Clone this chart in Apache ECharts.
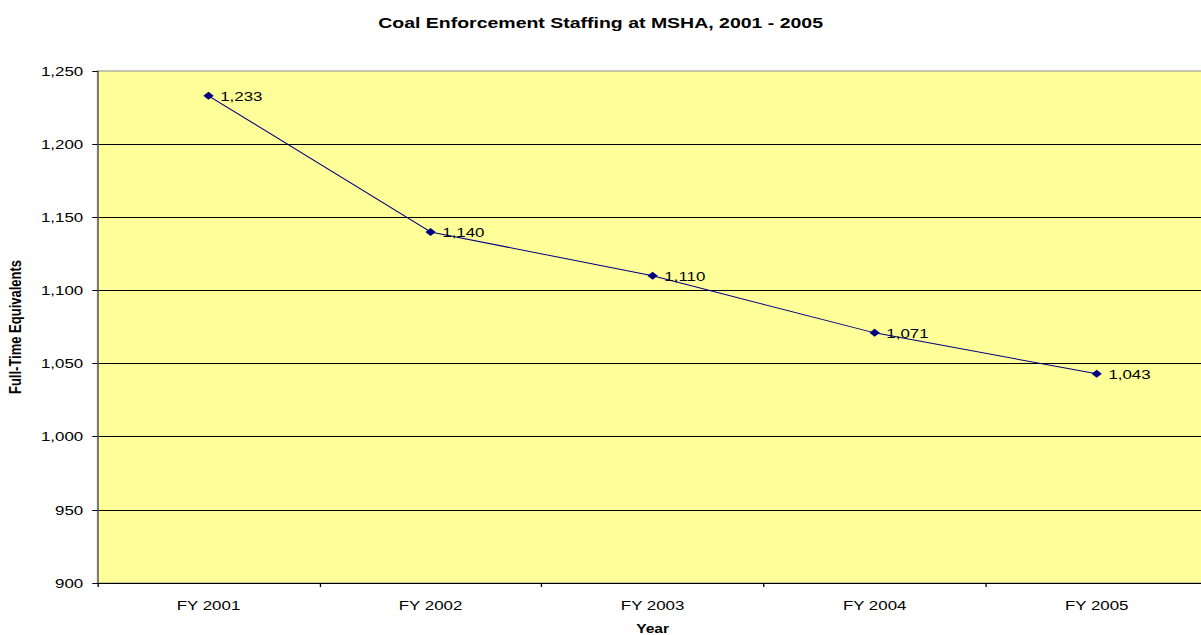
<!DOCTYPE html>
<html>
<head>
<meta charset="utf-8">
<script src="https://cdn.jsdelivr.net/npm/echarts@6/dist/echarts.min.js"></script>
<style>
  html, body { margin: 0; padding: 0; background: #fff; overflow: hidden; }
  /* the original picture is a horizontally stretched spreadsheet chart,
     so draw it narrower and stretch it back out */
  #chart { width: 924px; height: 635px; transform: scaleX(1.3); transform-origin: 0 0; }
</style>
</head>
<body>
<div id="chart"></div>
<script>
var years = ['FY 2001', 'FY 2002', 'FY 2003', 'FY 2004', 'FY 2005'];
var fte = [1233, 1140, 1110, 1071, 1043];

function fmt(v) {
    return String(v).replace(/\B(?=(\d{3})+(?!\d))/g, ',');
}

var myChart = echarts.init(document.getElementById('chart'), null, { renderer: 'svg' });
var option = {
    backgroundColor: '#ffffff',
    textStyle: { fontFamily: 'Liberation Sans, Arial, sans-serif' },
    title: {
        text: 'Coal Enforcement Staffing at MSHA, 2001 - 2005',
        left: 'center',
        top: 10,
        textStyle: { fontSize: 15, fontWeight: 'bold', color: '#000' }
    },
    grid: {
        // plot runs a little past the right edge of the picture
        left: 75, right: -5, top: 71, bottom: 52,
        outerBoundsMode: 'none',
        containLabel: false,
        show: true,
        backgroundColor: '#FFFF99',
        borderWidth: 1,
        borderColor: '#8c8c8c'
    },
    xAxis: {
        type: 'category',
        data: years,
        boundaryGap: true,
        name: 'Year',
        nameLocation: 'middle',
        nameGap: 40,
        nameTextStyle: { fontSize: 12, fontWeight: 'bold', color: '#000' },
        axisLine: { lineStyle: { color: '#000', width: 1 } },
        axisTick: { show: true, length: 4, lineStyle: { color: '#000' } },
        axisLabel: { fontSize: 13, color: '#000', margin: 16 }
    },
    yAxis: {
        type: 'value',
        min: 900,
        max: 1250,
        interval: 50,
        name: 'Full-Time Equivalents',
        nameLocation: 'middle',
        nameGap: 57,
        nameTextStyle: { fontSize: 13, fontWeight: 'bold', color: '#000' },
        axisLine: { show: true, lineStyle: { color: '#606060', width: 1 } },
        axisTick: { show: true, length: 4, lineStyle: { color: '#000' } },
        axisLabel: { fontSize: 13, color: '#000', margin: 11, formatter: fmt },
        splitLine: { show: true, showMaxLine: false, lineStyle: { color: '#000', width: 1 } }
    },
    series: [
        {
            name: 'FTE',
            type: 'line',
            data: fte,
            symbol: 'diamond',
            symbolSize: 8,
            itemStyle: { color: '#000080' },
            lineStyle: { color: '#000080', width: 1 },
            label: {
                show: true,
                position: 'right',
                distance: 5,
                fontSize: 13,
                color: '#000',
                formatter: function (p) { return fmt(p.value); }
            }
        }
    ]
};
myChart.setOption(option);
</script>
</body>
</html>
